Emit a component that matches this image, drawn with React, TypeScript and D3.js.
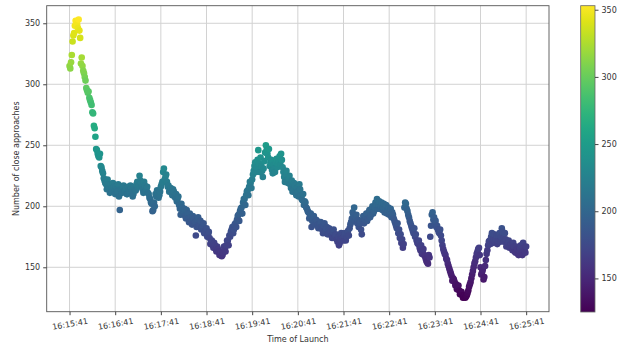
import React, { useEffect, useRef } from "react";
import * as d3 from "d3";

// Launch times: one launch every second starting at 16:15:41
const launchStart = "16:15:41";
const launchIntervalSec = 1;

// Number of close approaches recorded for each launch (20 launches per row)
const approachCounts: number[] = [
  315, 313, 318, 324, 335, 340, 342, 348, 352, 351, 349, 346, 353, 344, 338, 317, 322, 315, 311, 309,
  306, 303, 297, 295, 293, 294, 289, 287, 285, 283, 277, 276, 266, 264, 257, 247, 246, 243, 241, 240,
  243, 233, 232, 229, 227, 223, 221, 219, 218, 214, 222, 218, 215, 211, 218, 215, 212, 219, 216, 213,
  210, 216, 214, 212, 218, 208, 197, 214, 213, 211, 216, 217, 212, 213, 215, 210, 210, 216, 214, 212,
  217, 215, 212, 208, 210, 216, 214, 213, 218, 220, 216, 217, 225, 221, 219, 216, 214, 211, 220, 217,
  212, 214, 216, 211, 210, 207, 206, 203, 202, 196, 197, 203, 200, 210, 208, 213, 211, 207, 209, 212,
  216, 218, 220, 228, 231, 222, 224, 226, 220, 216, 217, 212, 213, 215, 211, 209, 214, 212, 208, 207,
  210, 204, 206, 208, 201, 198, 193, 202, 199, 194, 196, 198, 192, 190, 197, 194, 190, 187, 194, 191,
  188, 185, 192, 190, 186, 187, 176, 183, 189, 191, 185, 184, 188, 181, 183, 184, 186, 178, 180, 179,
  182, 175, 177, 179, 174, 169, 171, 172, 168, 166, 170, 168, 165, 163, 167, 165, 163, 160, 161, 163,
  159, 160, 162, 167, 165, 163, 168, 172, 172, 168, 176, 175, 179, 181, 183, 178, 181, 185, 186, 183,
  189, 192, 193, 188, 196, 198, 199, 194, 203, 206, 206, 201, 209, 212, 213, 209, 216, 220, 219, 215,
  222, 226, 229, 233, 236, 228, 232, 238, 246, 235, 228, 240, 233, 229, 224, 231, 237, 244, 250, 246,
  243, 240, 247, 233, 236, 238, 230, 227, 234, 231, 228, 236, 239, 232, 235, 237, 241, 234, 243, 238,
  232, 228, 224, 220, 226, 229, 221, 219, 223, 225, 218, 215, 221, 212, 214, 219, 217, 211, 209, 215,
  212, 208, 218, 214, 209, 206, 205, 210, 201, 204, 203, 199, 198, 196, 195, 190, 192, 194, 183, 188,
  190, 192, 187, 185, 189, 188, 185, 182, 183, 186, 187, 183, 181, 178, 184, 186, 180, 182, 183, 177,
  178, 182, 181, 179, 176, 174, 179, 181, 174, 176, 177, 173, 171, 175, 168, 170, 173, 178, 176, 174,
  172, 176, 178, 172, 175, 178, 180, 176, 182, 185, 187, 190, 195, 193, 199, 188, 191, 193, 186, 189,
  183, 186, 188, 181, 177, 188, 192, 186, 189, 192, 194, 188, 190, 195, 197, 191, 193, 198, 200, 194,
  196, 199, 203, 201, 206, 198, 201, 204, 198, 200, 203, 197, 199, 202, 195, 199, 201, 194, 197, 199,
  193, 196, 198, 191, 195, 193, 190, 188, 186, 184, 182, 186, 178, 181, 174, 177, 170, 173, 166, 169,
  199, 203, 202, 198, 196, 193, 191, 188, 186, 184, 182, 180, 178, 182, 175, 177, 172, 170, 169, 172,
  166, 164, 168, 161, 163, 165, 160, 159, 157, 155, 154, 153, 160, 158, 175, 184, 193, 195, 189, 191,
  186, 188, 183, 184, 181, 179, 178, 181, 176, 172, 168, 165, 163, 161, 160, 157, 156, 153, 151, 149,
  147, 145, 143, 139, 141, 140, 138, 135, 136, 132, 134, 135, 131, 128, 129, 130, 127, 125, 126, 127,
  125, 126, 127, 129, 131, 134, 136, 138, 141, 144, 147, 150, 153, 155, 158, 161, 163, 165, 166, 160,
  150, 144, 146, 148, 140, 142, 151, 156, 161, 164, 168, 171, 172, 169, 175, 178, 170, 173, 177, 171,
  173, 176, 169, 172, 176, 178, 171, 175, 182, 179, 174, 171, 178, 173, 167, 169, 170, 172, 166, 168,
  169, 166, 164, 170, 167, 163, 162, 167, 165, 161, 160, 164, 166, 168, 162, 160, 170, 166, 164, 162,
  167,
];

const timeTickLabels = [
  "16:15:41", "16:16:41", "16:17:41", "16:18:41", "16:19:41", "16:20:41",
  "16:21:41", "16:22:41", "16:23:41", "16:24:41", "16:25:41",
];
const countTicks = [150, 200, 250, 300, 350];
const colorbarTicks = [150, 200, 250, 300, 350];

const xTitle = "Time of Launch";
const yTitle = "Number of close approaches";

const WIDTH = 626;
const HEIGHT = 347;
const FONT = "'DejaVu Sans', sans-serif";

export default function App() {
  const ref = useRef<SVGSVGElement>(null);

  useEffect(() => {
    const svg = d3.select(ref.current);
    svg.selectAll("*").remove();

    const left = 46.7, right = 549, top = 5.7, bottom = 311.7;
    const cbLeft = 580.7, cbWidth = 14.3, cbTop = 5.7, cbBottom = 312;

    const parse = d3.timeParse("%H:%M:%S");
    const t0 = parse(launchStart) as Date;
    const times = approachCounts.map((_, i) => d3.timeSecond.offset(t0, i * launchIntervalSec));
    const tMin = +times[0];
    const tMax = +times[times.length - 1];
    const tPad = (tMax - tMin) * 0.05;

    const x = d3.scaleTime()
      .domain([new Date(tMin - tPad), new Date(tMax + tPad)])
      .range([left, right]);

    const [vMin, vMax] = d3.extent(approachCounts) as [number, number];
    const vPad = (vMax - vMin) * 0.05;
    const y = d3.scaleLinear().domain([vMin - vPad, vMax + vPad]).range([bottom, top]);

    const color = d3.scaleSequential(d3.interpolateViridis).domain([vMin, vMax]);

    svg.append("rect").attr("width", WIDTH).attr("height", HEIGHT).attr("fill", "#fff");

    const tickDates = timeTickLabels.map((s) => parse(s) as Date);

    // grid
    const grid = svg.append("g").attr("stroke", "#d2d2d2").attr("stroke-width", 1);
    grid.selectAll("line.vx").data(tickDates).join("line")
      .attr("x1", (d) => x(d)).attr("x2", (d) => x(d))
      .attr("y1", top).attr("y2", bottom);
    grid.selectAll("line.hy").data(countTicks).join("line")
      .attr("y1", (d) => y(d)).attr("y2", (d) => y(d))
      .attr("x1", left).attr("x2", right);

    // points
    svg.append("g").selectAll("circle").data(approachCounts).join("circle")
      .attr("cx", (_, i) => x(times[i]))
      .attr("cy", (d) => y(d))
      .attr("r", 3.3)
      .attr("fill", (d) => color(d));

    // frame
    svg.append("rect")
      .attr("x", left).attr("y", top)
      .attr("width", right - left).attr("height", bottom - top)
      .attr("fill", "none").attr("stroke", "#555").attr("stroke-width", 0.9);

    // x axis
    const xAxis = svg.append("g")
      .attr("transform", `translate(0,${bottom})`)
      .call(
        d3.axisBottom(x)
          .tickValues(tickDates)
          .tickFormat(d3.timeFormat("%H:%M:%S") as any)
          .tickSize(3.5)
      );
    xAxis.select(".domain").remove();
    xAxis.selectAll(".tick line").attr("stroke", "#444");
    xAxis.selectAll(".tick text")
      .attr("font-family", FONT).attr("font-size", 8).attr("fill", "#333")
      .attr("y", 12.3).attr("dy", "0.35em")
      .attr("text-anchor", "middle")
      .attr("transform", "rotate(-10,0,12.3)");

    // y axis
    const yAxis = svg.append("g")
      .attr("transform", `translate(${left},0)`)
      .call(d3.axisLeft(y).tickValues(countTicks).tickSize(3.5).tickPadding(3));
    yAxis.select(".domain").remove();
    yAxis.selectAll(".tick line").attr("stroke", "#444");
    yAxis.selectAll(".tick text")
      .attr("font-family", FONT).attr("font-size", 8).attr("fill", "#333");

    // axis titles
    svg.append("text")
      .attr("x", (left + right) / 2).attr("y", 342)
      .attr("text-anchor", "middle")
      .attr("font-family", FONT).attr("font-size", 8).attr("fill", "#333")
      .text(xTitle);
    svg.append("text")
      .attr("transform", `translate(18.5,${(top + bottom) / 2}) rotate(-90)`)
      .attr("text-anchor", "middle")
      .attr("font-family", FONT).attr("font-size", 8).attr("fill", "#333")
      .text(yTitle);

    // colorbar
    const defs = svg.append("defs");
    const grad = defs.append("linearGradient")
      .attr("id", "cbGrad").attr("x1", 0).attr("y1", 1).attr("x2", 0).attr("y2", 0);
    d3.range(0, 1.0001, 0.05).forEach((t) => {
      grad.append("stop").attr("offset", t).attr("stop-color", d3.interpolateViridis(t));
    });
    svg.append("rect")
      .attr("x", cbLeft).attr("y", cbTop)
      .attr("width", cbWidth).attr("height", cbBottom - cbTop)
      .attr("fill", "url(#cbGrad)")
      .attr("stroke", "#666").attr("stroke-width", 0.8);

    const cbScale = d3.scaleLinear().domain([vMin, vMax]).range([cbBottom, cbTop]);
    const cbAxis = svg.append("g")
      .attr("transform", `translate(${cbLeft + cbWidth},0)`)
      .call(d3.axisRight(cbScale).tickValues(colorbarTicks).tickSize(3.5).tickPadding(3));
    cbAxis.select(".domain").remove();
    cbAxis.selectAll(".tick line").attr("stroke", "#444");
    cbAxis.selectAll(".tick text")
      .attr("font-family", FONT).attr("font-size", 8).attr("fill", "#333");
  }, []);

  return (
    <svg
      ref={ref}
      width={WIDTH}
      height={HEIGHT}
      style={{ position: "absolute", left: 0, top: 0, display: "block" }}
    />
  );
}
